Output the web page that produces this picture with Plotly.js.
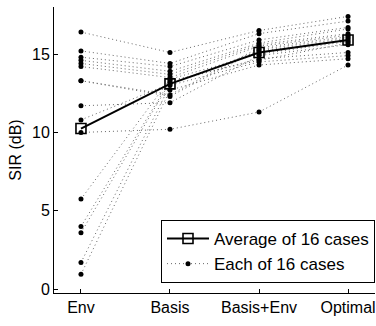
<!DOCTYPE html>
<html>
<head>
<meta charset="utf-8">
<script src="https://cdn.plot.ly/plotly-3.0.1.min.js"></script>
<style>html,body{margin:0;padding:0;background:#fff;}#chart{width:376px;height:326px;}</style>
</head>
<body>
<div id="chart"></div>
<script>
const categories = ["Env", "Basis", "Basis+Env", "Optimal"];
// SIR (dB) of each of the 16 cases, per method
const envVals      = [16.4, 15.2, 14.8, 14.6, 14.4, 14.2, 13.3, 13.3, 11.7, 10.8, 10.0, 5.75, 4.0, 3.6, 1.7, 0.95];
const basisVals    = [15.1, 14.4, 14.2, 13.9, 13.7, 13.5, 12.4, 12.3, 11.9, 13.1, 10.2, 13.4, 13.3, 13.2, 13.0, 12.7];
const basisEnvVals = [16.5, 16.3, 15.9, 15.7, 15.6, 15.5, 15.4, 15.3, 14.9, 15.2, 11.3, 15.0, 14.6, 14.7, 14.5, 14.3];
const optimalVals  = [17.4, 17.1, 16.7, 16.6, 16.3, 16.2, 16.1, 16.0, 15.6, 15.9, 14.3, 15.8, 15.7, 15.1, 14.9, 14.7];
const averageVals  = [10.25, 13.1, 15.1, 15.9];
const yTicks = [0, 5, 10, 15];

const traces = [];
for (let i = 0; i < envVals.length; i++) {
  traces.push({
    x: categories,
    y: [envVals[i], basisVals[i], basisEnvVals[i], optimalVals[i]],
    type: "scatter",
    mode: "lines+markers",
    name: "Each of 16 cases",
    legendgroup: "each",
    showlegend: i === 0,
    legendrank: 2,
    line: {color: "#666", width: 1, dash: "1px,3px"},
    marker: {color: "#000", size: 5, symbol: "circle"},
    hoverinfo: "skip"
  });
}
traces.push({
  x: categories,
  y: averageVals,
  type: "scatter",
  mode: "lines+markers",
  name: "Average of 16 cases",
  legendrank: 1,
  line: {color: "#000", width: 2},
  marker: {color: "#000", size: 10, symbol: "square-open", line: {width: 1.6, color: "#000"}}
});

const font = {family: "Liberation Sans, Arial, Helvetica, sans-serif", size: 16, color: "#000"};
const legendFont = {family: "Liberation Sans, Arial, Helvetica, sans-serif", size: 17, color: "#000"};
const layout = {
  width: 376,
  height: 326,
  margin: {l: 54, r: 1, t: 7, b: 33},
  paper_bgcolor: "#fff",
  plot_bgcolor: "#fff",
  font: font,
  showlegend: true,
  legend: {
    x: 1, xanchor: "right",
    y: 0.035, yanchor: "bottom",
    bgcolor: "#fff",
    bordercolor: "#000",
    borderwidth: 1,
    font: legendFont,
    itemwidth: 42,
    tracegroupgap: 0
  },
  xaxis: {
    type: "category",
    range: [-0.303, 3.303],
    showline: true, linecolor: "#000", linewidth: 1,
    ticks: "inside", ticklen: 4, tickcolor: "#000",
    showgrid: false, zeroline: false,
    tickfont: font
  },
  yaxis: {
    range: [-0.24, 18.0],
    tickvals: yTicks,
    ticktext: yTicks.map(String),
    showline: true, linecolor: "#000", linewidth: 1,
    ticks: "inside", ticklen: 4, tickcolor: "#000",
    showgrid: false, zeroline: false,
    tickfont: font,
    title: {text: "SIR (dB)", font: font, standoff: 6}
  }
};
Plotly.newPlot("chart", traces, layout, {displayModeBar: false, staticPlot: true});
</script>
</body>
</html>
